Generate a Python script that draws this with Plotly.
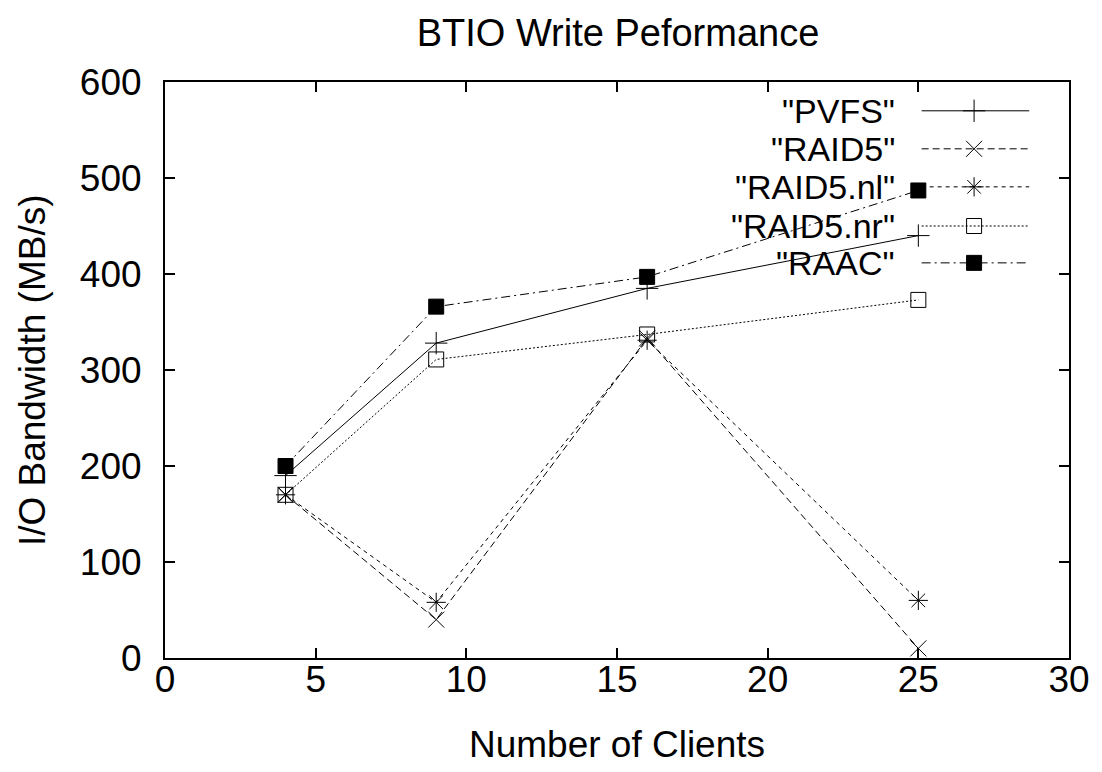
import plotly.graph_objects as go

clients = [4, 9, 16, 25]
pvfs = [190, 328, 385, 440]
raid5 = [170, 40, 333, 10]
raid5_nl = [170, 58, 331, 60]
raid5_nr = [170, 311, 337, 373]
raac = [200, 366, 397, 487]

names = ['"PVFS"', '"RAID5"', '"RAID5.nl"', '"RAID5.nr"', '"RAAC"']
series = [pvfs, raid5, raid5_nl, raid5_nr, raac]
dashes = ["solid", "7px,4px", "4px,4px", "2px,2px", "9px,4px,2px,4px"]
symbols = ["cross-thin-open", "x-thin-open", "asterisk-open", "square-open", "square"]
sizes = [16, 16, 16, 15, 15]

legend_x_text = 0.810
legend_line = [0.837, 0.956]
legend_marker_x = 0.895
legend_rows = [0.950, 0.884, 0.818, 0.750, 0.686]

fig = go.Figure()
for name, ys, d, s, sz in zip(names, series, dashes, symbols, sizes):
    fig.add_trace(go.Scatter(
        x=clients, y=ys, mode="lines+markers", name=name,
        line=dict(color="black", width=1, dash=d),
        marker=dict(symbol=s, size=sz, color="black", line=dict(color="black", width=1)),
        showlegend=False, cliponaxis=False))

for name, d, s, sz, ry in zip(names, dashes, symbols, sizes, legend_rows):
    fig.add_trace(go.Scatter(
        x=legend_line, y=[ry, ry], mode="lines", xaxis="x2", yaxis="y2",
        line=dict(color="black", width=1, dash=d), showlegend=False, hoverinfo="skip"))
    fig.add_trace(go.Scatter(
        x=[legend_marker_x], y=[ry], mode="markers", xaxis="x2", yaxis="y2",
        marker=dict(symbol=s, size=sz, color="black", line=dict(color="black", width=1)),
        showlegend=False, hoverinfo="skip"))
    fig.add_annotation(x=legend_x_text, y=ry, xref="paper", yref="paper",
                       text=name, showarrow=False, xanchor="right", yanchor="middle",
                       font=dict(size=34, color="black"))

fig.add_annotation(x=-0.147, y=0.5, xref="paper", yref="paper",
                   text="I/O Bandwidth (MB/s)", textangle=-90, showarrow=False,
                   xanchor="center", yanchor="middle", font=dict(size=37, color="black"))

font = "Liberation Sans, Arial, Helvetica, sans-serif"
axis_common = dict(showline=True, linecolor="black", linewidth=2, mirror="ticks",
                   ticks="inside", ticklen=10, tickwidth=2, tickcolor="black",
                   showgrid=False, zeroline=False,
                   tickfont=dict(size=37, color="black"))

fig.update_layout(
    width=1102, height=772,
    margin=dict(l=165, r=30, t=82, b=114),
    paper_bgcolor="white", plot_bgcolor="white",
    font=dict(family=font, color="black"),
    title=dict(text="BTIO Write Peformance", x=0.5608, xanchor="center", y=0.958,
               yanchor="middle", font=dict(size=38, color="black")),
    xaxis=dict(range=[0, 30], tickvals=[0, 5, 10, 15, 20, 25, 30],
               ticklabelstandoff=-12,
               title=dict(text="Number of Clients", font=dict(size=37), standoff=32),
               **axis_common),
    yaxis=dict(range=[0, 600], tickvals=[0, 100, 200, 300, 400, 500, 600],
               ticklabelstandoff=14,
               **axis_common),
    xaxis2=dict(range=[0, 1], overlaying="x", visible=False),
    yaxis2=dict(range=[0, 1], overlaying="y", visible=False),
)

fig.write_html("out.html")
